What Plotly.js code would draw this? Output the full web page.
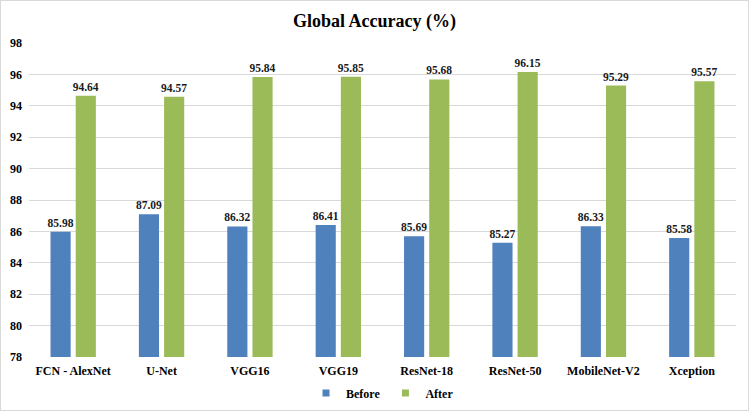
<!DOCTYPE html>
<html>
<head>
<meta charset="utf-8">
<script src="https://cdn.plot.ly/plotly-3.0.1.min.js"></script>
<style>
html,body{margin:0;padding:0;background:#fff;}
#wrap{width:749px;height:411px;box-sizing:border-box;border:1px solid #d9d9d9;overflow:hidden;}
#chart{width:747px;height:409px;}
</style>
</head>
<body>
<div id="wrap"><div id="chart"></div></div>
<script>
const models = ["FCN - AlexNet", "U-Net", "VGG16", "VGG19", "ResNet-18", "ResNet-50", "MobileNet-V2", "Xception"];
const seriesNames = ["Before", "After"];
const before = [85.98, 87.09, 86.32, 86.41, 85.69, 85.27, 86.33, 85.58];
const after = [94.64, 94.57, 95.84, 95.85, 95.68, 96.15, 95.29, 95.57];
const yTicks = [78, 80, 82, 84, 86, 88, 90, 92, 94, 96, 98];
const colors = ["#4F81BD", "#9BBB59"];

const FONT = "Liberation Serif, Times New Roman, serif";
const labelFont = {family: FONT, size: 11.5, color: "#1a1a1a", weight: "bold"};

const traces = [before, after].map((vals, i) => ({
  type: "bar", name: seriesNames[i], x: models, y: vals,
  marker: {color: colors[i]}, showlegend: false,
  text: vals.map(v => v.toFixed(2)), textposition: "outside", cliponaxis: false,
  constraintext: "none", textfont: labelFont, hoverinfo: "none"
}));
// legend entries with small square keys
seriesNames.forEach((n, i) => traces.push({
  type: "scatter", mode: "markers", name: n, x: [null], y: [null],
  marker: {symbol: "square", size: 7, color: colors[i]}, showlegend: true, hoverinfo: "none"
}));

const layout = {
  width: 747, height: 409,
  margin: {l: 28, r: 12, t: 42, b: 53, autoexpand: false},
  paper_bgcolor: "#fff", plot_bgcolor: "#fff",
  title: {text: "<b>Global Accuracy (%)</b>", x: 0.5, xanchor: "center", y: 0.952, yanchor: "middle",
          font: {family: FONT, size: 18, color: "#000"}},
  barmode: "group", bargap: 0.43, bargroupgap: 0.2,
  xaxis: {type: "category", showgrid: false, zeroline: false, showline: false, ticks: "",
          ticklabelstandoff: 5,
          tickfont: {family: FONT, size: 12, color: "#000", weight: "bold"}},
  yaxis: {range: [78, 98], tickvals: yTicks, ticktext: yTicks.map(String),
          showgrid: true, gridcolor: "#d9d9d9", gridwidth: 1, zeroline: false, showline: false,
          ticks: "", ticklabelstandoff: 6,
          tickfont: {family: FONT, size: 12, color: "#000", weight: "bold"}},
  showlegend: true,
  legend: {orientation: "h", x: 0.5, xanchor: "center", y: -0.115, yanchor: "middle",
           font: {family: FONT, size: 12, color: "#000", weight: "bold"},
           itemwidth: 30, tracegroupgap: 0},
  font: {family: FONT}
};

Plotly.newPlot("chart", traces, layout, {staticPlot: true, displayModeBar: false});
</script>
</body>
</html>
